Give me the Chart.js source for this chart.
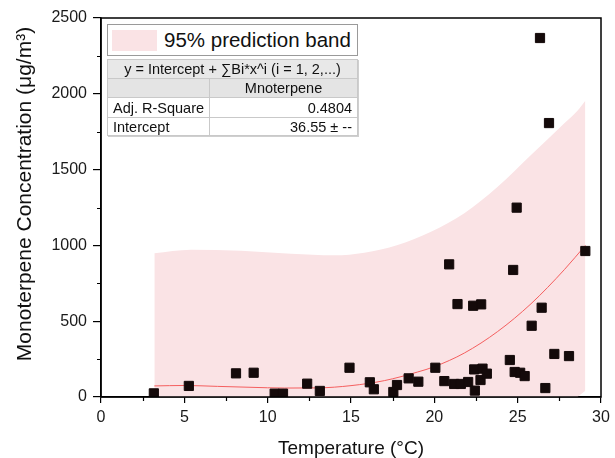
<!DOCTYPE html>
<html><head><meta charset="utf-8">
<script src="https://cdn.jsdelivr.net/npm/chart.js@4/dist/chart.umd.min.js"></script>
<style>
html,body{margin:0;padding:0;background:#fff;}
#wrap{position:relative;width:615px;height:458px;font-family:"Liberation Sans",Arial,sans-serif;color:#111;}
#c{position:absolute;left:0;top:0;}
#legend{position:absolute;left:107px;top:24px;width:249px;height:30px;border:1px solid #9a9a9a;background:#fff;}
#legend .sw{position:absolute;left:4px;top:5px;width:45px;height:21px;background:#fae3e5;}
#legend .lt{position:absolute;left:56px;top:0;line-height:30px;font-size:20.5px;white-space:nowrap;}
#tbl{position:absolute;left:107px;top:59px;width:250px;border-collapse:collapse;table-layout:fixed;font-size:14.5px;background:#fff;border:1px solid #8f8f8f;box-shadow:1px 1px 0 #cfcfcf;}
#tbl td{border:1px solid #c9c9c9;padding:0 5px;white-space:nowrap;overflow:hidden;line-height:16px;}
#tbl tr.r1 td{height:18px;background:#e8e8e8;text-align:center;}
#tbl tr.r2 td{height:18px;background:#e4e4e4;text-align:center;}
#tbl tr.r3 td{height:19px;}
#tbl tr.r4 td{height:17px;}
#tbl td.v{text-align:right;}
</style></head>
<body>
<div id="wrap">
<canvas id="c" width="615" height="458"></canvas>
<div id="legend"><div class="sw"></div><div class="lt">95% prediction band</div></div>
<table id="tbl">
<colgroup><col style="width:102px"><col style="width:148px"></colgroup>
<tr class="r1"><td colspan="2">y = Intercept + ∑Bi*x^i (i = 1, 2,...)</td></tr>
<tr class="r2"><td></td><td>Mnoterpene</td></tr>
<tr class="r3"><td>Adj. R-Square</td><td class="v">0.4804</td></tr>
<tr class="r4"><td>Intercept</td><td class="v">36.55 ± --</td></tr>
</table>
</div>
<script>
// measured data
const tempC = [3.17,5.27,8.1,9.16,10.42,10.92,12.37,13.13,14.91,16.13,16.37,17.54,17.76,18.46,19.04,20.06,20.6,20.89,21.19,21.39,21.59,22.03,22.33,22.39,22.43,22.77,22.81,22.89,23.15,24.53,24.73,24.82,24.94,25.15,25.42,25.84,26.34,26.44,26.66,26.88,27.2,28.08,29.06];
const monoterpene = [24,73,156,160,22,22,88,40,193,97,51,33,79,123,101,193,105,875,86,613,86,99,602,182,42,112,611,187,154,244,838,165,1249,160,138,470,2368,589,59,1807,284,270,963];
// fitted curve
const fitT = [3.2,5,7,9,11,13,15,17,19,20,21.8,23.8,25.8,27.8,29.06];
const fitY = [73,76,70,64,59,60,75,108,165,200,290,432,615,840,1000];
// 95% prediction band
const bandT = [3.2,5.4,8.4,11.4,14,15.8,17.8,19.8,21.8,23.8,25.8,27.8,28.6,29.06];
const bandUpper = [948,972,965,945,935,952,1003,1090,1212,1387,1596,1805,1890,1954];
const bandLower = [-800,-820,-840,-830,-810,-770,-740,-700,-630,-500,-330,-110,0,42];
// ticks
const xTickLabels = ['0','5','10','15','20','25','30'];
const yTickLabels = ['0','500','1000','1500','2000','2500'];
const xMinor = [2.5,7.5,12.5,17.5,22.5,27.5];
const yMinor = [250,750,1250,1750,2250];
const X_TITLE = 'Temperature (°C)';
const Y_TITLE = 'Monoterpene Concentration (μg/m³)';

const pts = (xs, ys) => xs.map((x, i) => ({x, y: ys[i]}));
Chart.defaults.font.family = '"Liberation Sans", Arial, sans-serif';

const extras = {
  id: 'extras',
  afterDraw(chart) {
    const {ctx, chartArea: a, scales: {x, y}} = chart;
    ctx.save();
    ctx.strokeStyle = '#000';
    ctx.lineWidth = 1.2;
    ctx.beginPath();
    xMinor.forEach(v => { const px = Math.round(x.getPixelForValue(v)) + 0.5; ctx.moveTo(px, a.bottom); ctx.lineTo(px, a.bottom + 4); });
    yMinor.forEach(v => { const py = Math.round(y.getPixelForValue(v)) + 0.5; ctx.moveTo(a.left, py); ctx.lineTo(a.left - 4, py); });
    ctx.stroke();
    ctx.lineWidth = 1.5;
    ctx.strokeRect(a.left, a.top, a.right - a.left, a.bottom - a.top);
    // y axis title
    ctx.translate(25, 194);
    ctx.rotate(-Math.PI / 2);
    ctx.font = '21px "Liberation Sans", Arial, sans-serif';
    ctx.fillStyle = '#111';
    ctx.textAlign = 'center';
    ctx.textBaseline = 'middle';
    ctx.fillText(Y_TITLE, 0, 0);
    ctx.restore();
  }
};

new Chart(document.getElementById('c'), {
  type: 'scatter',
  data: {
    datasets: [
      {data: pts(tempC, monoterpene), pointStyle: 'rect', pointRadius: 6.5, pointHoverRadius: 6.5,
       backgroundColor: '#140a0a', borderColor: '#140a0a', borderWidth: 1},
      {data: pts(fitT, fitY), showLine: true, pointRadius: 0, borderColor: 'rgb(245,95,95)', borderWidth: 1,
       cubicInterpolationMode: 'monotone', fill: false},
      {data: pts(bandT, bandUpper), showLine: true, pointRadius: 0, borderColor: 'rgba(0,0,0,0)', borderWidth: 0,
       cubicInterpolationMode: 'monotone', fill: '+1', backgroundColor: '#fae3e5'},
      {data: pts(bandT, bandLower), showLine: true, pointRadius: 0, borderColor: 'rgba(0,0,0,0)', borderWidth: 0,
       cubicInterpolationMode: 'monotone', fill: false}
    ]
  },
  options: {
    responsive: false, animation: false,
    layout: {padding: {top: 18, right: 14, left: 0, bottom: 0}},
    plugins: {legend: {display: false}, tooltip: {enabled: false}},
    scales: {
      x: {
        type: 'linear', min: 0, max: 30,
        afterFit(s) { s.height = 61; },
        ticks: {stepSize: 5, color: '#1a1a1a', font: {size: 16}, padding: 5, maxRotation: 0,
                callback: (v, i) => xTickLabels[i]},
        grid: {drawOnChartArea: false, drawTicks: true, tickLength: 6, color: '#000', lineWidth: 1.2},
        border: {display: true, color: '#000', width: 1.5},
        title: {display: true, text: X_TITLE, color: '#111', font: {size: 19, lineHeight: 1}, padding: {top: 0, bottom: 0}}
      },
      y: {
        min: 0, max: 2500,
        afterFit(s) { s.width = 101; },
        ticks: {stepSize: 500, color: '#1a1a1a', font: {size: 16}, padding: 6,
                callback: (v, i) => yTickLabels[i]},
        grid: {drawOnChartArea: false, drawTicks: true, tickLength: 8, color: '#000', lineWidth: 1.2},
        border: {display: true, color: '#000', width: 1.5}
      }
    }
  },
  plugins: [extras]
});
</script>
</body></html>
